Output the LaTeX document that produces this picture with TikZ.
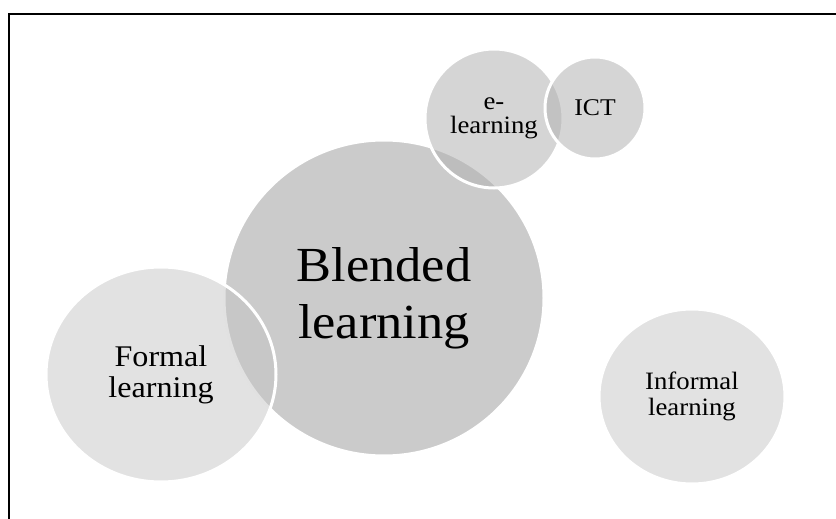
\documentclass[tikz,border=0pt]{standalone}
\usepackage{fontspec}
\setmainfont{Liberation Serif}[FakeStretch=1.07]
\usepackage{tikz}
\usetikzlibrary{shapes}
\usetikzlibrary{positioning}
\usepackage{xcolor}

\definecolor{bigfill}{gray}{0.796}
\definecolor{sidefill}{gray}{0.773}
\definecolor{topfill}{gray}{0.70}

\tikzset{
  bubble/.style={ellipse, draw=white, line width=3pt, align=center,
    inner sep=0pt, text=black, text opacity=1},
  side/.style={bubble, fill=sidefill, fill opacity=.5,
    font=\fontsize{30}{31}\selectfont},
  small/.style={bubble, fill=topfill, fill opacity=.54,
    font=\fontsize{25}{24}\selectfont}
}

\begin{document}
\begin{tikzpicture}[x=1pt,y=-1pt]
\useasboundingbox (0,0) rectangle (836,519);
\draw[line width=2pt] (845,14)--(9,14)--(9,530);

\node[bubble, fill=bigfill, minimum width=320, minimum height=316,
  font=\fontsize{49}{57}\selectfont] (blended) at (384,298) {Blended\\learning};
\node[side, minimum width=230, minimum height=215] (formal) at (161,374.5) {Formal\\learning};
\node[side, minimum width=186, minimum height=175,
  font=\fontsize{25}{26}\selectfont] (informal) at (692,396.5) {Informal\\learning};
\node[small, minimum width=138, minimum height=139] (elearn) at (494,118.5) {e-\\learning};
\node[small, minimum width=100, minimum height=102, font=\fontsize{24}{24}\selectfont]
  (ict) at (595,108) {ICT};
\end{tikzpicture}
\end{document}
